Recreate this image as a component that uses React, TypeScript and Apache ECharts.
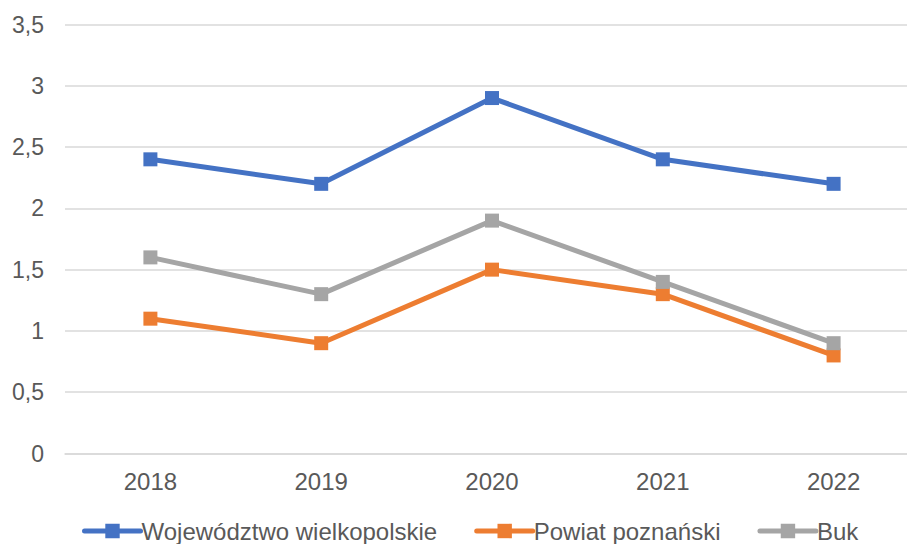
import React, { useEffect, useRef } from "react";
import * as echarts from "echarts";

const categories = ["2018", "2019", "2020", "2021", "2022"];
const wielkopolskie = [2.4, 2.2, 2.9, 2.4, 2.2];
const powiat = [1.1, 0.9, 1.5, 1.3, 0.8];
const buk = [1.6, 1.3, 1.9, 1.4, 0.9];
const seriesNames = ["Województwo wielkopolskie", "Powiat poznański", "Buk"];
const colors = ["#4472C4", "#ED7D31", "#A5A5A5"];

export default function App() {
  const ref = useRef<HTMLDivElement>(null);
  useEffect(() => {
    if (!ref.current) return;
    const chart = echarts.init(ref.current, null, { renderer: "svg" });
    const font = "Liberation Sans, Arial, sans-serif";
    const mk = (name: string, data: number[], color: string) => ({
      name,
      type: "line",
      data,
      symbol: "rect",
      symbolSize: 14,
      itemStyle: { color },
      lineStyle: { color, width: 5 },
      z: 2,
    });
    chart.setOption({
      animation: false,
      backgroundColor: "#ffffff",
      textStyle: { fontFamily: font },
      grid: { left: 65, right: 0, top: 24.5, bottom: 90.5, containLabel: false },
      legend: {
        left: 82,
        top: 519,
        padding: 0,
        itemWidth: 56,
        itemHeight: 18,
        itemGap: 37,
        lineStyle: { width: 5, cap: "round" },
        textStyle: {
          color: "#595959",
          fontSize: 24,
          lineHeight: 24,
          fontFamily: font,
          padding: [0, 0, 0, -4],
        },
        data: seriesNames,
      },
      xAxis: {
        type: "category",
        data: categories,
        boundaryGap: true,
        axisLine: { show: true, lineStyle: { color: "#D9D9D9", width: 1.5 } },
        axisTick: { show: false },
        axisLabel: { color: "#595959", fontSize: 24, margin: 16, fontFamily: font },
      },
      yAxis: {
        type: "value",
        min: 0,
        max: 3.5,
        interval: 0.5,
        axisLine: { show: false },
        axisTick: { show: false },
        splitLine: { lineStyle: { color: "#D9D9D9", width: 1.5 } },
        axisLabel: {
          color: "#595959",
          fontSize: 23,
          margin: 21,
          fontFamily: font,
          formatter: (v: number) => String(v).replace(".", ","),
        },
      },
      series: [
        mk(seriesNames[0], wielkopolskie, colors[0]),
        mk(seriesNames[1], powiat, colors[1]),
        mk(seriesNames[2], buk, colors[2]),
      ],
    });
    return () => chart.dispose();
  }, []);
  return (
    <div
      style={{
        position: "absolute",
        left: 0,
        top: 0,
        width: 907,
        height: 544,
        overflow: "hidden",
      }}
    >
      <div ref={ref} style={{ width: 919, height: 544 }} />
    </div>
  );
}
